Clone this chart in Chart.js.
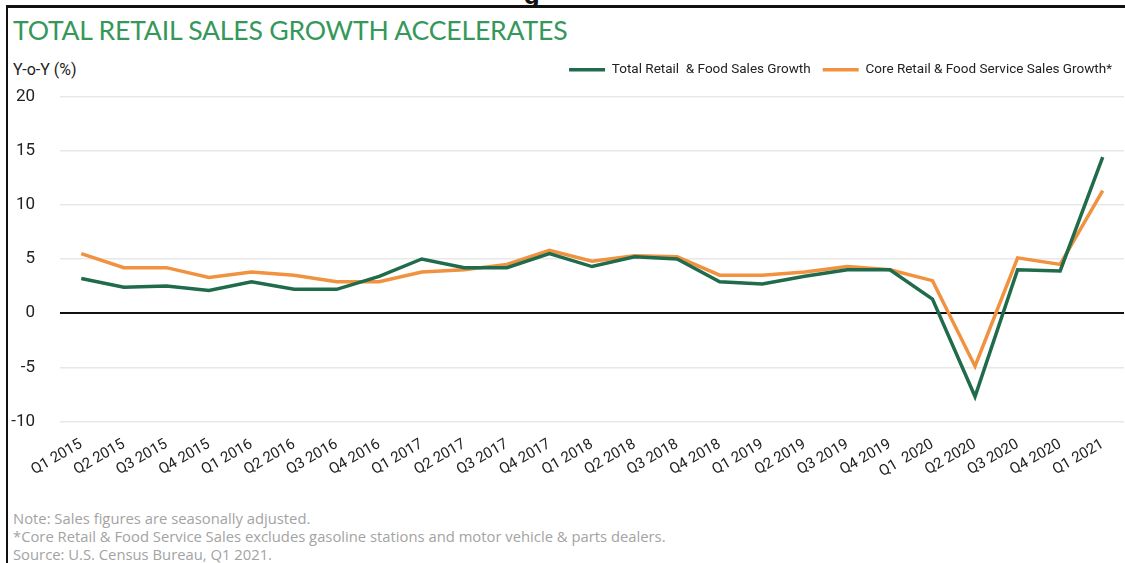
<!DOCTYPE html>
<html>
<head>
<meta charset="utf-8">
<script src="https://cdn.jsdelivr.net/npm/chart.js@4/dist/chart.umd.min.js"></script>
<style>
  body { margin: 0; width: 1125px; height: 563px; background: #fff; overflow: hidden; position: relative; font-family: "Roboto", sans-serif; }
  #moldura { position: absolute; left: 6px; top: 5px; right: 0; bottom: -5px; border-left: 2px solid #111; border-top: 3px solid #111; }
  #corte { position: absolute; left: 524px; top: -16px; font: bold 22px "DejaVu Sans", sans-serif; color: #111; }
  #titulo { position: absolute; left: 13px; top: 14px; font: 26.6px "Lato", "Open Sans", sans-serif; color: #35985a; letter-spacing: -0.2px; }
  #eixo { position: absolute; left: 13px; top: 60px; font: 16px "Roboto", sans-serif; color: #222; }
  #area { position: absolute; left: 8px; top: 51px; width: 1117px; height: 436px; }
  #notas { position: absolute; left: 13px; top: 509px; font: 14.8px "Open Sans", sans-serif; color: #a3a3a3; line-height: 18px; }
</style>
</head>
<body>
<div id="moldura"></div>
<div id="corte">g</div>
<div id="titulo">TOTAL RETAIL SALES GROWTH ACCELERATES</div>
<div id="eixo">Y-o-Y (%)</div>
<div id="area"><canvas id="grafico"></canvas></div>
<div id="notas">
  Note: Sales figures are seasonally adjusted.<br>
  *Core Retail &amp; Food Service Sales excludes gasoline stations and motor vehicle &amp; parts dealers.<br>
  Source: U.S. Census Bureau, Q1 2021.
</div>
<script>
const trimestres = [
  "Q1 2015", "Q2 2015", "Q3 2015", "Q4 2015",
  "Q1 2016", "Q2 2016", "Q3 2016", "Q4 2016",
  "Q1 2017", "Q2 2017", "Q3 2017", "Q4 2017",
  "Q1 2018", "Q2 2018", "Q3 2018", "Q4 2018",
  "Q1 2019", "Q2 2019", "Q3 2019", "Q4 2019",
  "Q1  2020", "Q2 2020", "Q3 2020", "Q4 2020",
  "Q1 2021"
];

const vendasTotais = [
  3.2, 2.4, 2.5, 2.1, 2.9, 2.2, 2.2, 3.4,
  5.0, 4.2, 4.2, 5.5, 4.3, 5.2, 5.0, 2.9,
  2.7, 3.4, 4.0, 4.0, 1.3, -7.7, 4.0, 3.9,
  14.4
];

const vendasCore = [
  5.5, 4.2, 4.2, 3.3, 3.8, 3.5, 2.9, 2.9,
  3.8, 4.0, 4.5, 5.8, 4.8, 5.3, 5.2, 3.5,
  3.5, 3.8, 4.3, 4.0, 3.0, -4.9, 5.1, 4.5,
  11.3
];

const ticksY = [-10, -5, 0, 5, 10, 15, 20];

const VERDE   = "#1f6b4b";
const LARANJA = "#f0923f";
const FONTE   = '"Roboto", sans-serif';

// dá mais espaço entre a legenda e a área do gráfico
const espacoLegenda = {
  id: "espacoLegenda",
  beforeInit(chart) {
    const fitOrig = chart.legend.fit;
    chart.legend.fit = function () {
      fitOrig.call(this);
      this.height += 10;
    };
  }
};

const ctx = document.getElementById("grafico").getContext("2d");
new Chart(ctx, {
  type: "line",
  data: {
    labels: trimestres,
    datasets: [
      {
        label: "Total Retail  & Food Sales Growth",
        data: vendasTotais,
        borderColor: VERDE,
        backgroundColor: VERDE,
        borderWidth: 3.5,
        pointRadius: 0,
        tension: 0
      },
      {
        label: "Core Retail & Food Service Sales Growth*",
        data: vendasCore,
        borderColor: LARANJA,
        backgroundColor: LARANJA,
        borderWidth: 3.5,
        pointRadius: 0,
        tension: 0
      }
    ]
  },
  options: {
    responsive: true,
    maintainAspectRatio: false,
    animation: false,
    layout: { padding: { top: 0, right: 1, left: 0, bottom: 0 } },
    plugins: {
      legend: {
        position: "top",
        align: "end",
        labels: {
          usePointStyle: true,
          pointStyle: "line",
          pointStyleWidth: 36,
          boxHeight: 3,
          color: "#222",
          padding: 12,
          font: { family: FONTE, size: 13.5 }
        }
      },
      tooltip: { enabled: false }
    },
    scales: {
      x: {
        offset: true,
        grid: { display: false },
        border: { display: false },
        afterFit: eixo => { eixo.paddingLeft = 0; },
        ticks: {
          color: "#222",
          minRotation: 30,
          maxRotation: 30,
          autoSkip: false,
          padding: 6,
          font: { family: FONTE, size: 15 }
        }
      },
      y: {
        min: -10,
        max: 20,
        afterBuildTicks: eixo => { eixo.ticks = ticksY.map(v => ({ value: v })); },
        afterFit: eixo => { eixo.width = 52; },
        border: { display: false },
        grid: {
          drawTicks: false,
          color: c => c.tick && c.tick.value === 0 ? "#111" : "#e8e8e8",
          lineWidth: c => c.tick && c.tick.value === 0 ? 2 : 1.5
        },
        ticks: {
          color: "#222",
          padding: 25,
          font: { family: FONTE, size: 17 }
        }
      }
    }
  },
  plugins: [espacoLegenda]
});
</script>
</body>
</html>
